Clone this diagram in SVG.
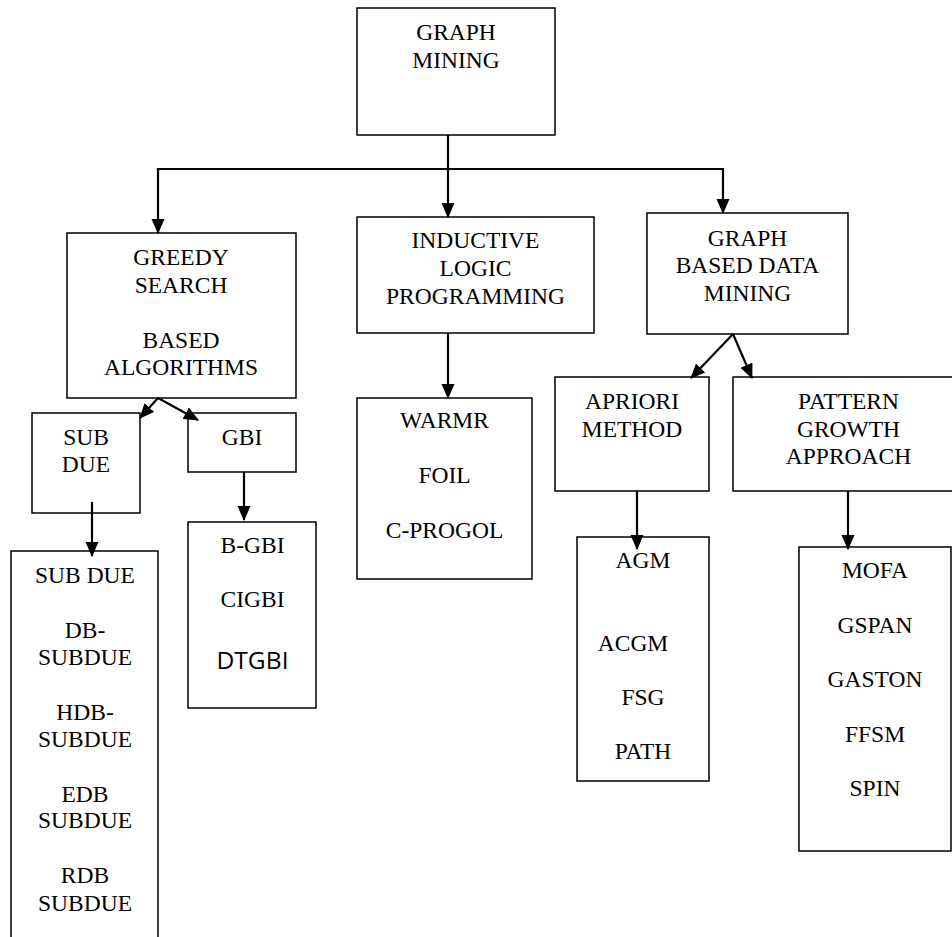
<svg xmlns="http://www.w3.org/2000/svg" width="952" height="937" viewBox="0 0 952 937">
<style>
.box{fill:#fff;stroke:#000;stroke-width:1.5}
.t{font-family:'Liberation Serif','Times New Roman','DejaVu Serif',serif;font-size:23.5px;fill:#000;text-anchor:middle}
.s{font-family:'Open Sans','Liberation Sans',sans-serif;font-size:24px;fill:#000;text-anchor:middle}
.c{fill:none;stroke:#000;stroke-width:2.2}
</style>
<defs>
<marker id="ah" markerUnits="userSpaceOnUse" markerWidth="15" markerHeight="14" viewBox="0 0 15 14" refX="14" refY="7" orient="auto">
<path d="M0,0.5 L15,7 L0,13.5 z" fill="#000"/>
</marker>
</defs>
<rect width="952" height="937" fill="#fff"/>

<g id="graph-mining">
<rect class="box" x="357" y="8" width="198" height="127"/>
<text class="t" font-family="Liberation Serif, serif" x="456" y="40">GRAPH</text>
<text class="t" font-family="Liberation Serif, serif" x="456" y="68">MINING</text>
</g>

<g id="greedy">
<rect class="box" x="67" y="233" width="229" height="165"/>
<text class="t" x="181" y="265">GREEDY</text>
<text class="t" x="181" y="293">SEARCH</text>
<text class="t" x="181" y="348">BASED</text>
<text class="t" x="181" y="375">ALGORITHMS</text>
</g>

<g id="inductive">
<rect class="box" x="357" y="217" width="237" height="116"/>
<text class="t" x="475.5" y="248">INDUCTIVE</text>
<text class="t" x="475.5" y="276">LOGIC</text>
<text class="t" x="475.5" y="304">PROGRAMMING</text>
</g>

<g id="graph-based">
<rect class="box" x="647" y="213" width="201" height="121"/>
<text class="t" x="747.5" y="246">GRAPH</text>
<text class="t" x="747.5" y="273">BASED DATA</text>
<text class="t" x="747.5" y="301">MINING</text>
</g>

<g id="subdue">
<rect class="box" x="32" y="413" width="108" height="100"/>
<text class="t" x="86" y="445">SUB</text>
<text class="t" x="86" y="472">DUE</text>
</g>

<g id="gbi">
<rect class="box" x="188" y="413" width="108" height="59"/>
<text class="t" x="242" y="445">GBI</text>
</g>

<g id="warmr">
<rect class="box" x="357" y="398" width="175" height="181"/>
<text class="t" x="444.5" y="428">WARMR</text>
<text class="t" x="444.5" y="483">FOIL</text>
<text class="t" x="444.5" y="538">C-PROGOL</text>
</g>

<g id="apriori">
<rect class="box" x="555" y="377" width="154" height="114"/>
<text class="t" x="632" y="409">APRIORI</text>
<text class="t" x="632" y="437">METHOD</text>
</g>

<g id="pattern">
<rect class="box" x="733" y="377" width="231" height="114"/>
<text class="t" x="848.5" y="409">PATTERN</text>
<text class="t" x="848.5" y="437">GROWTH</text>
<text class="t" x="848.5" y="464">APPROACH</text>
</g>

<g id="subdue-list">
<path class="box" d="M11,940 L11,551 L158,551 L158,940"/>
<text class="t" x="85" y="583">SUB DUE</text>
<text class="t" x="85" y="638">DB-</text>
<text class="t" x="85" y="665">SUBDUE</text>
<text class="t" x="85" y="720">HDB-</text>
<text class="t" x="85" y="747">SUBDUE</text>
<text class="t" x="85" y="802">EDB</text>
<text class="t" x="85" y="828">SUBDUE</text>
<text class="t" x="85" y="883">RDB</text>
<text class="t" x="85" y="911">SUBDUE</text>
</g>

<g id="gbi-list">
<rect class="box" x="188" y="522" width="128" height="186"/>
<text class="t" x="252.5" y="553">B-GBI</text>
<text class="t" x="252.5" y="607">CIGBI</text>
<text class="s" x="252.5" y="669" textLength="72" lengthAdjust="spacingAndGlyphs">DTGBI</text>
</g>

<g id="agm-list">
<rect class="box" x="577" y="537" width="132" height="244"/>
<text class="t" x="643" y="568">AGM</text>
<text class="t" x="633" y="651">ACGM</text>
<text class="t" x="643" y="705">FSG</text>
<text class="t" x="643" y="759">PATH</text>
</g>

<g id="mofa-list">
<rect class="box" x="799" y="547" width="152" height="304"/>
<text class="t" x="875" y="578">MOFA</text>
<text class="t" x="875" y="633">GSPAN</text>
<text class="t" x="875" y="687">GASTON</text>
<text class="t" x="875" y="742">FFSM</text>
<text class="t" x="875" y="796">SPIN</text>
</g>

<g id="connectors">
<path class="c" d="M448,135 L448,217" marker-end="url(#ah)"/>
<path class="c" d="M448,169 L158,169 L158,233" marker-end="url(#ah)"/>
<path class="c" d="M448,169 L723,169 L723,213" marker-end="url(#ah)"/>
<path class="c" d="M158,398 L140,418" marker-end="url(#ah)"/>
<path class="c" d="M158,398 L198,420" marker-end="url(#ah)"/>
<path class="c" d="M92,502 L92,556" marker-end="url(#ah)"/>
<path class="c" d="M244,472 L244,520" marker-end="url(#ah)"/>
<path class="c" d="M448,333 L448,398" marker-end="url(#ah)"/>
<path class="c" d="M733,334 L691,378" marker-end="url(#ah)"/>
<path class="c" d="M733,334 L752,378" marker-end="url(#ah)"/>
<path class="c" d="M637,491 L637,549" marker-end="url(#ah)"/>
<path class="c" d="M848,491 L848,549" marker-end="url(#ah)"/>
</g>
</svg>
